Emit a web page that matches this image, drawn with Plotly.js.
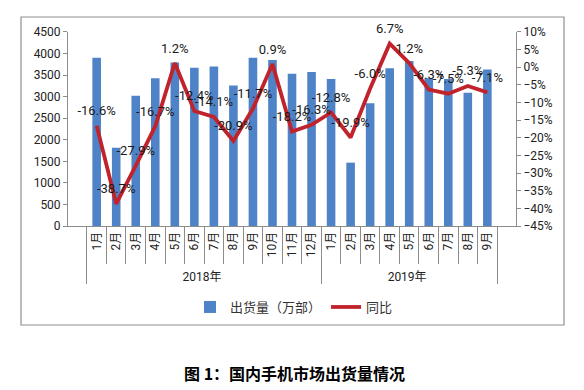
<!DOCTYPE html>
<html>
<head>
<meta charset="utf-8">
<script src="https://cdn.plot.ly/plotly-3.0.1.min.js"></script>
<style>
html,body{margin:0;padding:0;background:#fff;}
#chart{width:584px;height:390px;}
</style>
</head>
<body>
<div id="chart"></div>
<script>
const years = ['2018年','2018年','2018年','2018年','2018年','2018年','2018年','2018年','2018年','2018年','2018年','2018年',
               '2019年','2019年','2019年','2019年','2019年','2019年','2019年','2019年','2019年'];
const months = ['1月','2月','3月','4月','5月','6月','7月','8月','9月','10月','11月','12月',
                '1月','2月','3月','4月','5月','6月','7月','8月','9月'];
const shipments = [3900, 1815, 3020, 3430, 3790, 3670, 3700, 3260, 3900, 3850, 3530, 3570,
                   3410, 1470, 2850, 3660, 3830, 3430, 3410, 3090, 3630];
const yoy = [-16.6, -38.7, -27.9, -16.7, 1.2, -12.4, -14.1, -20.9, -11.7, 0.9, -18.2, -16.3,
             -12.8, -19.9, -6.0, 6.7, 1.2, -6.3, -7.5, -5.3, -7.1];
const barName = '出货量（万部）';
const lineName = '同比';
const caption = '图 1：国内手机市场出货量情况';

const fontFam = "Roboto, 'Noto Sans CJK SC', sans-serif";

const traces = [
  {
    type: 'bar',
    name: barName,
    x: [years, months],
    y: shipments,
    marker: {color: '#4F83C8'},
    yaxis: 'y'
  },
  {
    type: 'scatter',
    mode: 'lines+markers+text',
    name: lineName,
    x: [years, months],
    y: yoy,
    text: yoy.map(v => v.toFixed(1) + '%'),
    textposition: 'top center',
    textfont: {family: fontFam, size: 13, color: '#1a1a1a'},
    line: {color: '#C0232C', width: 3.8},
    marker: {size: 10, color: 'rgba(0,0,0,0)'},
    yaxis: 'y2',
    cliponaxis: false
  }
];

const xDom = [0.0866, 0.9116];
const yDom = [0.3214, 0.9513];
const layout = {
  width: 584,
  height: 390,
  margin: {l: 21, r: 20, t: 17, b: 65},
  paper_bgcolor: '#fff',
  plot_bgcolor: '#fff',
  font: {family: fontFam, size: 12, color: '#222'},
  bargap: 0.56,
  showlegend: true,
  legend: {
    orientation: 'h',
    x: 0.5028, xanchor: 'center',
    y: 0.0584, yanchor: 'middle',
    font: {family: fontFam, size: 13, color: '#333'},
    itemwidth: 30,
    tracegroupgap: 0
  },
  xaxis: {
    type: 'multicategory',
    domain: xDom,
    anchor: 'y',
    showline: true,
    linecolor: '#8c8c8c',
    linewidth: 1,
    ticks: 'outside',
    tickson: 'boundaries',
    ticklen: 37,
    tickcolor: '#8c8c8c',
    tickangle: -90,
    showdividers: true,
    dividercolor: '#8c8c8c',
    dividerwidth: 1,
    tickfont: {family: fontFam, size: 12, color: '#222'},
    showgrid: false,
    zeroline: false
  },
  yaxis: {
    domain: yDom,
    anchor: 'x',
    range: [0, 4500],
    dtick: 500,
    showline: true,
    linecolor: '#8c8c8c',
    ticks: 'outside',
    ticklen: 4,
    tickcolor: '#8c8c8c',
    showgrid: false,
    zeroline: false,
    tickfont: {family: fontFam, size: 12, color: '#222'}
  },
  yaxis2: {
    overlaying: 'y',
    anchor: 'x',
    side: 'right',
    range: [-45, 10],
    dtick: 5,
    ticksuffix: '%',
    showline: true,
    linecolor: '#8c8c8c',
    ticks: 'outside',
    ticklen: 4,
    tickcolor: '#8c8c8c',
    showgrid: false,
    zeroline: false,
    tickfont: {family: fontFam, size: 12, color: '#222'}
  },
  shapes: [
    {type: 'rect', xref: 'paper', yref: 'paper', x0: 0, x1: 1, y0: 0, y1: 1,
     line: {color: '#909090', width: 1.2}, fillcolor: 'rgba(0,0,0,0)', layer: 'above'}
  ],
  annotations: [
    {xref: 'paper', yref: 'paper', x: 0.5028, y: -0.156, xanchor: 'center', yanchor: 'middle',
     showarrow: false, text: '<b>' + caption + '</b>',
     font: {family: "'Noto Sans CJK SC', sans-serif", size: 16, color: '#000'}}
  ]
};

Plotly.newPlot('chart', traces, layout, {displayModeBar: false, staticPlot: true});
</script>
</body>
</html>
